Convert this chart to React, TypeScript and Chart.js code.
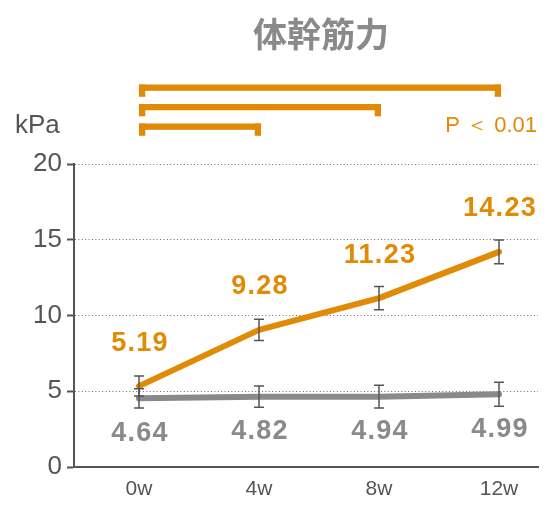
import * as React from 'react';
import { useEffect, useRef } from 'react';
import { Chart, registerables } from 'chart.js';

Chart.register(...registerables);

const weeks = [0, 4, 8, 12];
const weekLabels = ['0w', '4w', '8w', '12w'];
const yTicks = [0, 5, 10, 15, 20];

// training group (orange): plotted means, error half-lengths, printed values
const trainingMeans = [5.34, 9.05, 11.15, 14.2];
const trainingErr = [0.66, 0.7, 0.77, 0.78];
const trainingText = ['5.19', '9.28', '11.23', '14.23'];

// control group (gray)
const controlMeans = [4.53, 4.64, 4.64, 4.8];
const controlErr = [0.64, 0.7, 0.75, 0.79];
const controlText = ['4.64', '4.82', '4.94', '4.99'];

// significance brackets, all from 0w
const bracketEnds = [12, 8, 4];

const TITLE = '体幹筋力';
const UNIT = 'kPa';
const P_TEXT = 'P ＜ 0.01';

const ORANGE = '#E08A06';
const GRAY = '#8a8a8a';
const DARK = '#555555';
const FONT = '"Liberation Sans", Arial, Helvetica, sans-serif';

const overlay = {
  id: 'overlay',
  afterDatasetsDraw(chart: any) {
    const { ctx, scales: { x, y } } = chart;
    ctx.save();
    ctx.strokeStyle = DARK;
    ctx.lineWidth = 1.5;
    const groups: [number[], number[]][] = [[trainingMeans, trainingErr], [controlMeans, controlErr]];
    groups.forEach(([m, e]) => {
      weeks.forEach((w, i) => {
        const px = x.getPixelForValue(w);
        const top = y.getPixelForValue(m[i] + e[i]);
        const bot = y.getPixelForValue(m[i] - e[i]);
        ctx.beginPath();
        ctx.moveTo(px, top);
        ctx.lineTo(px, bot);
        ctx.moveTo(px - 5, top);
        ctx.lineTo(px + 5, top);
        ctx.moveTo(px - 5, bot);
        ctx.lineTo(px + 5, bot);
        ctx.stroke();
      });
    });
    ctx.restore();
  },
  afterDraw(chart: any) {
    const { ctx, scales: { x, y } } = chart;
    ctx.save();

    // title
    ctx.fillStyle = GRAY;
    ctx.font = 'bold 34px "Noto Sans CJK JP", sans-serif';
    ctx.textAlign = 'center';
    ctx.textBaseline = 'middle';
    ctx.fillText(TITLE, 321, 34);

    // brackets
    ctx.fillStyle = ORANGE;
    bracketEnds.forEach((end, i) => {
      const xl = x.getPixelForValue(0);
      const xr = x.getPixelForValue(end) + 2;
      const top = 84.5 + i * 19.5;
      ctx.fillRect(xl, top, xr - xl, 6.3);
      ctx.fillRect(xl, top, 6.3, 12.3);
      ctx.fillRect(xr - 6.3, top, 6.3, 12.3);
    });

    // unit and p value
    ctx.textBaseline = 'alphabetic';
    ctx.fillStyle = DARK;
    ctx.font = `26px ${FONT}`;
    ctx.textAlign = 'left';
    ctx.fillText(UNIT, 15, 132.5);
    ctx.fillStyle = ORANGE;
    ctx.font = `22px ${FONT}`;
    ctx.textAlign = 'right';
    ctx.fillText(P_TEXT, 537, 131.5);

    // value labels
    ctx.textAlign = 'center';
    ctx.textBaseline = 'middle';
    ctx.font = `bold 27px ${FONT}`;
    (ctx as any).letterSpacing = '1.3px';
    weeks.forEach((w, i) => {
      const px = x.getPixelForValue(w) + 1;
      ctx.fillStyle = ORANGE;
      ctx.fillText(trainingText[i], px, y.getPixelForValue(trainingMeans[i]) - 43);
      ctx.fillStyle = GRAY;
      ctx.fillText(controlText[i], px, y.getPixelForValue(controlMeans[i]) + 35);
    });
    ctx.restore();
  },
};

export default function App() {
  const canvasRef = useRef<HTMLCanvasElement>(null);

  useEffect(() => {
    const chart = new Chart(canvasRef.current!, {
      type: 'line',
      data: {
        datasets: [
          {
            label: 'training',
            data: weeks.map((w, i) => ({ x: w, y: trainingMeans[i] })),
            borderColor: ORANGE,
            borderWidth: 6,
            borderCapStyle: 'round',
            borderJoinStyle: 'round',
            pointRadius: 0,
            tension: 0,
            fill: false,
          },
          {
            label: 'control',
            data: weeks.map((w, i) => ({ x: w, y: controlMeans[i] })),
            borderColor: GRAY,
            borderWidth: 6,
            borderCapStyle: 'round',
            borderJoinStyle: 'round',
            pointRadius: 0,
            tension: 0,
            fill: false,
          },
        ],
      },
      options: {
        responsive: false,
        animation: false,
        layout: { padding: { top: 164, right: 19, left: 0, bottom: 0 } },
        plugins: {
          legend: { display: false },
          tooltip: { enabled: false },
          title: { display: false },
        },
        scales: {
          x: {
            type: 'linear',
            min: -2.167,
            max: 13.3,
            afterBuildTicks: (scale: any) => {
              scale.ticks = weeks.map((v) => ({ value: v }));
            },
            afterFit: (scale: any) => {
              scale.height = 48;
            },
            ticks: {
              color: DARK,
              font: { family: FONT, size: 21 },
              padding: 10,
              callback: (v: any) => weekLabels[weeks.indexOf(Number(v))] ?? '',
            },
            grid: { display: true, drawOnChartArea: false, drawTicks: false },
            border: { display: true, color: DARK, width: 2 },
          },
          y: {
            type: 'linear',
            min: 0,
            max: 20,
            afterBuildTicks: (scale: any) => {
              scale.ticks = yTicks.map((v) => ({ value: v }));
            },
            afterFit: (scale: any) => {
              scale.width = 74;
            },
            ticks: {
              color: DARK,
              font: { family: FONT, size: 26 },
              padding: 5,
            },
            grid: {
              color: (c: any) => (c.tick && c.tick.value === 0 ? 'rgba(0,0,0,0)' : '#6a6a6a'),
              lineWidth: 1,
              tickLength: 7,
              tickColor: DARK,
              tickWidth: 2,
            },
            border: { display: true, color: DARK, width: 2, dash: [1, 2.4] },
          },
        },
      },
      plugins: [overlay],
    } as any);
    return () => chart.destroy();
  }, []);

  return (
    <div style={{ position: 'absolute', left: 0, top: 0, width: 557, height: 515, background: '#fff' }}>
      <canvas ref={canvasRef} width={557} height={515} style={{ width: 557, height: 515 }} />
    </div>
  );
}
